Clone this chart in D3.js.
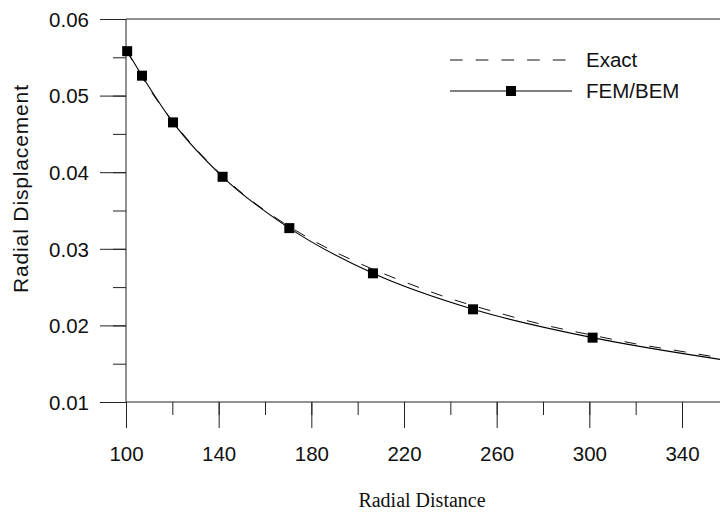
<!DOCTYPE html>
<html>
<head>
<meta charset="utf-8">
<script src="https://cdn.jsdelivr.net/npm/d3@7"></script>
<style>
  body { margin: 0; background: #fff; }
  svg { display: block; }
</style>
</head>
<body>
<svg id="chart" width="720" height="512"></svg>
<script>
// exact solution
const exact_r = [100, 110, 120, 130, 140, 150, 160, 170, 180, 200, 220, 240, 260, 280, 300, 320, 340, 360];
const exact_u = [0.0560, 0.0509, 0.0467, 0.0431, 0.0400, 0.0373, 0.0350, 0.0330, 0.0312, 0.0282, 0.0257, 0.0235, 0.0217, 0.0201, 0.0188, 0.0176, 0.0166, 0.0156];
// FEM/BEM nodes (markers)
const fem_r = [100.5, 106.9, 120.3, 141.7, 170.5, 206.6, 249.8, 301.4];
const fem_u = [0.0558, 0.0526, 0.0465, 0.0394, 0.0327, 0.0268, 0.0221, 0.0184];
// solid line continues past last marker
const fem_tail_r = [360];
const fem_tail_u = [0.0154];
const x_ticks = [100, 140, 180, 220, 260, 300, 340];
const y_ticks = [0.01, 0.02, 0.03, 0.04, 0.05, 0.06];

const svg = d3.select("#chart");
const m_left = 126, m_top = 19, m_bottom = 402;

let x = d3.scaleLinear().domain([100, 340]).range([m_left, 682]);
let y = d3.scaleLinear().domain([0.01, 0.06]).range([m_bottom, m_top]);

const ink = "#222";
const sans = "Liberation Sans, Arial, sans-serif";

// y axis with major + minor ticks
svg.append("g")
    .attr("transform", `translate(${m_left},0)`)
    .call(d3.axisLeft(y).tickValues(d3.range(0.01, 0.0601, 0.005)).tickSize(13).tickFormat(""))
    .call(g => g.select(".domain").remove())
    .call(g => g.selectAll("line").attr("stroke", ink));
svg.append("g")
    .attr("transform", `translate(${m_left},0)`)
    .call(d3.axisLeft(y).tickValues(y_ticks).tickSize(26).tickFormat(d3.format(".2f")))
    .call(g => g.select(".domain").remove())
    .call(g => g.selectAll("line").attr("stroke", ink))
    .call(g => g.selectAll("text")
        .attr("x", -37).attr("dy", "0.36em")
        .attr("font-family", sans)
        .attr("font-size", 20.5).attr("fill", "#111"));

// x axis
svg.append("g")
    .attr("transform", `translate(0,${m_bottom})`)
    .call(d3.axisBottom(x).tickValues(d3.range(100, 360, 20)).tickSize(13).tickFormat(""))
    .call(g => g.select(".domain").remove())
    .call(g => g.selectAll("line").attr("stroke", ink));
svg.append("g")
    .attr("transform", `translate(0,${m_bottom})`)
    .call(d3.axisBottom(x).tickValues(x_ticks).tickSize(26).tickFormat(d3.format("d")))
    .call(g => g.select(".domain").remove())
    .call(g => g.selectAll("line").attr("stroke", ink))
    .call(g => g.selectAll("text")
        .attr("y", 59).attr("dy", 0)
        .attr("font-family", sans)
        .attr("font-size", 20.5).attr("fill", "#111"));

// frame lines: left, bottom, top
svg.append("line").attr("x1", m_left).attr("x2", m_left).attr("y1", m_top).attr("y2", m_bottom).attr("stroke", ink);
svg.append("line").attr("x1", m_left).attr("x2", 720).attr("y1", m_bottom).attr("y2", m_bottom).attr("stroke", ink);
svg.append("line").attr("x1", m_left).attr("x2", 720).attr("y1", m_top).attr("y2", m_top).attr("stroke", ink);

// curves
const line = d3.line().x(d => x(d[0])).y(d => y(d[1])).curve(d3.curveMonotoneX);
const exact_pts = exact_r.map((r, i) => [r, exact_u[i]]);
const fem_pts = fem_r.map((r, i) => [r, fem_u[i]])
    .concat(fem_tail_r.map((r, i) => [r, fem_tail_u[i]]));

svg.append("path")
    .datum(exact_pts)
    .attr("d", line)
    .attr("fill", "none").attr("stroke", "#111").attr("stroke-width", 1)
    .attr("stroke-dasharray", "12,13");

svg.append("path")
    .datum(fem_pts)
    .attr("d", line)
    .attr("fill", "none").attr("stroke", "#000").attr("stroke-width", 1.1);

svg.selectAll(".marker")
    .data(fem_r.map((r, i) => [r, fem_u[i]]))
    .join("rect")
    .attr("class", "marker")
    .attr("x", d => x(d[0]) - 5)
    .attr("y", d => y(d[1]) - 5)
    .attr("width", 10).attr("height", 10)
    .attr("fill", "#000");

// legend
const leg = svg.append("g");
leg.append("line").attr("x1", 450).attr("x2", 570).attr("y1", 60).attr("y2", 60)
    .attr("stroke", "#111").attr("stroke-dasharray", "12.7,13");
leg.append("line").attr("x1", 450).attr("x2", 572).attr("y1", 91).attr("y2", 91)
    .attr("stroke", "#000");
leg.append("rect").attr("x", 506).attr("y", 86).attr("width", 10).attr("height", 10).attr("fill", "#000");
leg.selectAll("text")
    .data([["Exact", 60], ["FEM/BEM", 91]])
    .join("text")
    .attr("x", 586).attr("y", d => d[1]).attr("dy", "0.36em")
    .attr("font-family", sans)
    .attr("font-size", 20.5).attr("fill", "#111")
    .text(d => d[0]);

// axis titles
svg.append("text")
    .attr("x", 422).attr("y", 507)
    .attr("text-anchor", "middle")
    .attr("font-family", "Liberation Serif, Times New Roman, serif")
    .attr("font-size", 20).attr("fill", "#111")
    .text("Radial Distance");

svg.append("text")
    .attr("transform", "translate(28,189) rotate(-90)")
    .attr("text-anchor", "middle")
    .attr("font-family", sans)
    .attr("font-size", 21).attr("fill", "#111")
    .attr("textLength", 208).attr("lengthAdjust", "spacing")
    .text("Radial Displacement");
</script>
</body>
</html>
